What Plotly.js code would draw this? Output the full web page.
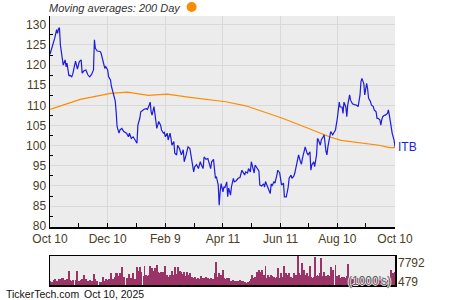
<!DOCTYPE html>
<html><head><meta charset="utf-8">
<script src="https://cdn.plot.ly/plotly-3.0.1.min.js"></script>
<style>html,body{margin:0;padding:0;background:#fff}#chart{width:450px;height:300px}</style>
</head><body><div id="chart"></div>
<script>
const dates = [
'2024-10-10','2024-10-12','2024-10-14','2024-10-15','2024-10-17','2024-10-18','2024-10-19','2024-10-20','2024-10-21','2024-10-23',
'2024-10-24','2024-10-26','2024-10-27','2024-10-28','2024-10-30','2024-10-31','2024-11-02','2024-11-03','2024-11-06','2024-11-08',
'2024-11-10','2024-11-12','2024-11-13','2024-11-15','2024-11-17','2024-11-19','2024-11-21','2024-11-23','2024-11-25','2024-11-26',
'2024-11-27','2024-11-29','2024-12-02','2024-12-03','2024-12-05','2024-12-07','2024-12-08','2024-12-10','2024-12-11','2024-12-13',
'2024-12-14','2024-12-16','2024-12-18','2024-12-19','2024-12-20','2024-12-22','2024-12-23','2024-12-25','2024-12-27','2024-12-30',
'2025-01-01','2025-01-02','2025-01-04','2025-01-06','2025-01-08','2025-01-10','2025-01-11','2025-01-13','2025-01-14','2025-01-17',
'2025-01-18','2025-01-20','2025-01-21','2025-01-23','2025-01-24','2025-01-25','2025-01-26','2025-01-28','2025-01-29','2025-01-31',
'2025-02-01','2025-02-02','2025-02-04','2025-02-05','2025-02-07','2025-02-08','2025-02-09','2025-02-11','2025-02-12','2025-02-14',
'2025-02-15','2025-02-16','2025-02-18','2025-02-19','2025-02-21','2025-02-22','2025-02-24','2025-02-25','2025-02-26','2025-02-28',
'2025-03-01','2025-03-03','2025-03-04','2025-03-05','2025-03-07','2025-03-09','2025-03-11','2025-03-12','2025-03-14','2025-03-16',
'2025-03-18','2025-03-19','2025-03-21','2025-03-22','2025-03-24','2025-03-26','2025-03-27','2025-03-29','2025-03-30','2025-04-01',
'2025-04-03','2025-04-04','2025-04-06','2025-04-07','2025-04-08','2025-04-09','2025-04-11','2025-04-12','2025-04-13','2025-04-15',
'2025-04-16','2025-04-17','2025-04-19','2025-04-20','2025-04-22','2025-04-23','2025-04-25','2025-04-27','2025-04-29','2025-05-01',
'2025-05-02','2025-05-04','2025-05-05','2025-05-07','2025-05-08','2025-05-10','2025-05-11','2025-05-12','2025-05-14','2025-05-15',
'2025-05-17','2025-05-19','2025-05-20','2025-05-22','2025-05-24','2025-05-25','2025-05-26','2025-05-28','2025-05-29','2025-05-31',
'2025-06-01','2025-06-02','2025-06-04','2025-06-05','2025-06-07','2025-06-08','2025-06-10','2025-06-11','2025-06-12','2025-06-14',
'2025-06-15','2025-06-17','2025-06-19','2025-06-20','2025-06-22','2025-06-23','2025-06-25','2025-06-26','2025-06-27','2025-06-29',
'2025-06-30','2025-07-02','2025-07-03','2025-07-04','2025-07-06','2025-07-07','2025-07-09','2025-07-10','2025-07-12','2025-07-13',
'2025-07-14','2025-07-16','2025-07-17','2025-07-19','2025-07-20','2025-07-21','2025-07-23','2025-07-24','2025-07-26','2025-07-27',
'2025-07-29','2025-07-30','2025-07-31','2025-08-02','2025-08-03','2025-08-05','2025-08-08','2025-08-10','2025-08-12','2025-08-13',
'2025-08-15','2025-08-16','2025-08-17','2025-08-19','2025-08-20','2025-08-21','2025-08-23','2025-08-24','2025-08-26','2025-08-28',
'2025-08-30','2025-09-01','2025-09-03','2025-09-04','2025-09-05','2025-09-07','2025-09-08','2025-09-10','2025-09-11','2025-09-12',
'2025-09-14','2025-09-15','2025-09-17','2025-09-18','2025-09-20','2025-09-21','2025-09-22','2025-09-24','2025-09-25','2025-09-26',
'2025-09-27','2025-09-29','2025-09-30','2025-10-02','2025-10-03','2025-10-04','2025-10-06','2025-10-07','2025-10-09','2025-10-10'
];
const price = [
122.7,124.2,126.3,126.7,128.8,127.9,129.0,129.3,125.0,120.5,
120.0,121.3,119.6,120.5,117.3,117.5,117.1,117.7,121.0,119.0,
120.9,121.3,118.0,118.6,118.8,117.6,117.1,117.7,118.8,126.3,
124.2,123.5,123.4,123.0,121.3,119.2,119.6,118.8,117.1,116.3,
114.7,112.6,111.1,108.4,104.7,103.1,103.9,104.3,103.5,103.1,
102.2,103.1,101.8,102.2,101.4,100.6,105.1,106.8,108.4,108.9,
109.1,109.2,109.0,110.1,110.8,108.4,107.6,109.7,107.6,104.3,
105.1,106.0,105.1,103.9,103.1,103.3,102.2,103.1,101.4,103.1,
101.8,100.1,101.0,98.1,97.7,100.1,99.3,98.5,97.7,99.0,
96.0,97.7,99.3,99.7,99.3,96.8,93.5,94.7,95.3,94.3,
96.0,95.3,94.3,97.2,96.6,96.8,96.0,94.3,96.0,96.6,
91.9,92.3,90.2,85.2,88.5,90.6,88.5,89.8,89.5,91.0,
87.3,89.5,87.7,89.8,91.9,91.0,91.3,91.9,92.1,93.9,
93.5,92.7,93.5,93.2,94.3,93.5,96.0,94.8,93.2,95.2,
94.3,93.7,90.2,90.0,90.5,89.7,91.1,89.7,89.4,88.1,
90.5,90.0,91.1,90.7,92.7,93.9,93.2,92.1,90.2,90.7,
87.3,87.3,89.7,91.9,92.7,91.9,92.5,93.2,94.3,96.0,
97.7,96.0,95.4,96.8,98.9,99.7,98.1,97.7,98.5,93.9,
95.2,96.0,94.8,97.7,101.8,101.4,100.1,101.4,102.2,102.7,
98.5,97.7,99.7,103.1,103.5,102.7,103.9,106.8,110.8,109.6,
109.6,108.0,110.8,109.6,107.2,110.1,112.6,111.3,110.4,110.2,
110.1,109.7,112.6,115.9,116.7,115.4,112.6,115.5,114.2,111.8,
111.0,110.1,109.7,108.9,108.4,106.8,106.8,106.4,105.1,106.4,
107.2,107.6,107.6,108.0,108.9,107.6,103.9,103.1,101.4,99.7
];
const volume = [
1100,900,1300,1500,1000,1200,1500,1400,1700,2000,
1900,1400,1200,1500,3850,1300,1100,1300,1400,3850,
1200,1300,1500,2690,1600,1200,1400,1100,1300,2960,
1500,1100,800,900,2240,1000,1500,1400,1700,1500,
3310,1600,2240,3310,3310,2500,3310,4930,2240,2000,
2240,2960,1800,3140,1700,4930,3850,4930,3600,2500,
5110,2690,2400,2690,5110,3000,4480,3800,4480,5370,
3580,3200,3580,2900,3580,2600,5110,2800,2240,2600,
2400,3850,2700,4930,3000,4930,2800,3850,3580,2900,
3580,2500,3580,2600,3140,2240,2000,2240,1520,1800,
1600,2400,1900,2000,2240,1800,1600,1800,1500,1700,
3140,6270,2200,3140,2500,2800,4030,1790,1600,1790,
1500,1790,1200,1100,1300,1000,1200,1100,1300,1000,
1160,890,479,890,800,1000,1500,2690,1800,2200,
3580,4030,3500,4030,2690,2000,5110,2000,2690,2200,
2690,2400,2240,2000,2240,4480,2000,3140,2200,3140,
5110,3310,2800,3310,2240,2000,3140,2400,2600,7792,
3140,2400,2690,6000,4030,2800,3140,2500,5110,2240,
2000,2240,7440,2400,2690,2400,3140,7170,2500,3580,
2400,2000,2690,2400,4930,4030,5370,2300,2690,2000,
2240,1800,2240,2000,2400,5640,2000,1790,1500,1790,
2240,1800,2240,1600,2240,1500,1300,1500,1300,1600,
2240,1800,2240,1600,2240,1500,1300,1790,1500,1300,
2240,1600,1300,1200,1340,1000,4030,3200,3310,3500
];
const maDates = ['2024-10-10','2024-11-11','2024-12-13','2024-12-31','2025-01-22','2025-02-11','2025-03-07','2025-03-23','2025-04-14','2025-05-05','2025-05-26','2025-06-13','2025-07-08','2025-08-03','2025-08-14','2025-09-05','2025-09-23','2025-10-04','2025-10-10'];
const maValues = [109.0,111.5,113.0,113.3,112.5,112.8,112.0,111.6,110.9,109.9,108.2,106.8,104.5,102.1,101.3,100.6,100.1,99.5,99.5];
const tickDates = ['2024-10-10','2024-12-10','2025-02-09','2025-04-11','2025-06-11','2025-08-10','2025-10-10'];
const tickLabels = ['Oct 10','Dec 10','Feb 9','Apr 11','Jun 11','Aug 10','Oct 10'];
const minorTickDates = ['2024-11-09','2025-01-09','2025-03-12','2025-05-11','2025-07-11','2025-09-09'];
const ticker = 'ITB';
const volMax = 7792, volMin = 479;

const FONT = 'Liberation Sans, Arial, sans-serif';
const LBL = '#4a3d24';
const traces = [
  {x: maDates, y: maValues, type: 'scatter', mode: 'lines', line: {color: '#ff8c00', width: 1.2}, xaxis: 'x', yaxis: 'y', hoverinfo: 'skip'},
  {x: dates, y: price, type: 'scatter', mode: 'lines', line: {color: '#1c1cdc', width: 1.2}, xaxis: 'x', yaxis: 'y', hoverinfo: 'skip'},
  {x: dates, y: volume, type: 'bar', marker: {color: '#9c3366', line: {width: 0}}, width: 172800000, xaxis: 'x2', yaxis: 'y2', hoverinfo: 'skip'}
];
const layout = {
  width: 450, height: 300,
  margin: {l: 50, r: 55, t: 16, b: 15},
  paper_bgcolor: '#ffffff', plot_bgcolor: '#ececec',
  showlegend: false, bargap: 0,
  font: {family: FONT, size: 12, color: LBL},
  xaxis: {
    type: 'date', range: ['2024-10-10', '2025-10-10'], anchor: 'y',
    tickmode: 'array', tickvals: tickDates, ticktext: tickLabels,
    ticks: 'inside', ticklen: 4, tickcolor: '#000', tickwidth: 1,
    showgrid: true, gridcolor: '#d9d9d9', gridwidth: 1,
    showline: true, linecolor: '#000', linewidth: 1.5,
    tickfont: {family: FONT, size: 12, color: LBL},
    minor: {tickmode: 'array', tickvals: minorTickDates, ticks: 'inside', ticklen: 4, tickcolor: '#000', showgrid: false},
    zeroline: false, fixedrange: true
  },
  yaxis: {
    domain: [0.2156, 1], range: [79.8, 132.2], anchor: 'x',
    tick0: 80, dtick: 5, ticks: '',
    showgrid: true, gridcolor: '#d9d9d9', gridwidth: 1,
    showline: true, linecolor: '#000', linewidth: 1.5,
    tickfont: {family: FONT, size: 12, color: LBL},
    minor: {tick0: 80, dtick: 2.5, ticks: 'inside', ticklen: 3, tickcolor: '#000', showgrid: false},
    zeroline: false, fixedrange: true
  },
  xaxis2: {
    type: 'date', matches: 'x', anchor: 'y2', showticklabels: false, ticks: '',
    showgrid: false, showline: true, mirror: true, linecolor: '#000', linewidth: 1.5, zeroline: false
  },
  yaxis2: {
    domain: [0, 0.1078], range: [0, volMax], anchor: 'x2', showticklabels: false, ticks: '',
    showgrid: false, showline: true, mirror: true, linecolor: '#000', linewidth: 1.5, zeroline: false
  },
  shapes: [
    {type: 'circle', xref: 'paper', yref: 'paper', x0: 0.396, x1: 0.425, y0: 1.0149, y1: 1.052, fillcolor: '#ff8c00', line: {width: 0}}
  ],
  annotations: [
    {text: 'Moving averages: 200 Day', xref: 'paper', yref: 'paper', x: 0, y: 1.0297, xanchor: 'left', yanchor: 'middle', xshift: -3, showarrow: false,
     font: {family: FONT, size: 11, color: '#333', style: 'italic'}},
    {text: ticker, xref: 'paper', yref: 'y', x: 1, y: price[price.length - 1], xanchor: 'left', yanchor: 'middle', xshift: 1, showarrow: false,
     font: {family: FONT, size: 12, color: '#1c1cdc'}},
    {text: String(volMax), xref: 'paper', yref: 'y2 domain', x: 1, y: 0.76, xanchor: 'left', yanchor: 'middle', xshift: 1, showarrow: false,
     font: {family: FONT, size: 12, color: LBL}},
    {text: String(volMin), xref: 'paper', yref: 'y2 domain', x: 1, y: 0.1, xanchor: 'left', yanchor: 'middle', xshift: 1, showarrow: false,
     font: {family: FONT, size: 12, color: LBL}},
    {text: "(1000's)", xref: 'paper', yref: 'y2 domain', x: 0.994, y: 0.14, xanchor: 'right', yanchor: 'middle', showarrow: false,
     font: {family: FONT, size: 12, color: '#56625a', shadow: '1px 0 0 #e8e8e8, -1px 0 0 #e8e8e8, 0 1px 0 #e8e8e8, 0 -1px 0 #e8e8e8'}},
    {text: 'TickerTech.com', xref: 'paper', yref: 'paper', x: -0.1275, y: -0.0335, xanchor: 'left', yanchor: 'middle', xshift: -2, showarrow: false,
     font: {family: FONT, size: 10.5, color: '#111'}},
    {text: 'Oct 10, 2025', xref: 'paper', yref: 'paper', x: 0.0986, y: -0.0335, xanchor: 'left', yanchor: 'middle', xshift: -2, showarrow: false,
     font: {family: FONT, size: 10.5, color: '#111'}}
  ]
};
Plotly.newPlot('chart', traces, layout, {staticPlot: true, displayModeBar: false});
</script>
</body></html>
